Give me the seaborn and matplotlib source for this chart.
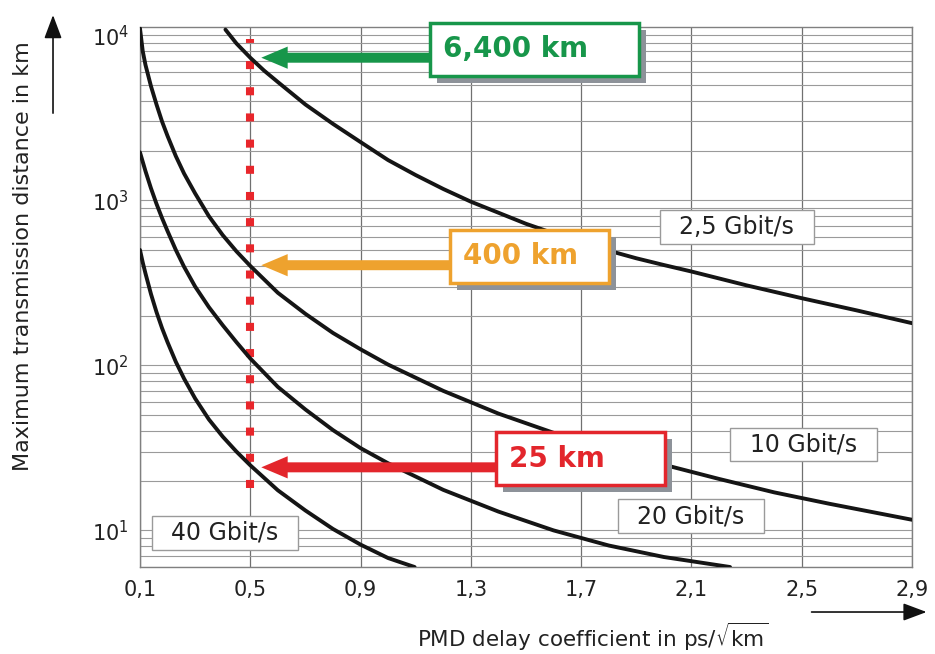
import numpy as np
import pandas as pd
import matplotlib
matplotlib.use("Agg")
import matplotlib.pyplot as plt
import matplotlib.ticker as mticker
import matplotlib.patheffects as pe
import seaborn as sns

# curves: PMD coefficient (ps/sqrt(km)) -> max distance (km)
pmd_2g5 = [0.41, 0.45, 0.50, 0.55, 0.60, 0.70, 0.80, 0.90, 1.00, 1.10, 1.20, 1.30, 1.40, 1.50,
           1.60, 1.70, 1.80, 1.90, 2.00, 2.10, 2.30, 2.50, 2.70, 2.90]
km_2g5 = [10800, 8900, 7300, 6100, 5200, 3800, 2900, 2250, 1750, 1420, 1170, 980, 840, 720,
          630, 555, 495, 445, 405, 370, 305, 255, 215, 180]

pmd_10g = [0.10, 0.11, 0.12, 0.14, 0.16, 0.18, 0.20, 0.23, 0.26, 0.30, 0.35, 0.40, 0.45, 0.50,
           0.60, 0.70, 0.80, 0.90, 1.00, 1.20, 1.40, 1.60, 1.80, 2.00, 2.20, 2.40, 2.60, 2.90]
km_10g = [11000, 8000, 6600, 4900, 3800, 3000, 2450, 1850, 1450, 1100, 800, 615, 490, 400,
          275, 205, 157, 125, 101, 70, 51, 39, 30.5, 25, 20.5, 17, 14.5, 11.6]

pmd_20g = [0.10, 0.12, 0.14, 0.16, 0.18, 0.20, 0.23, 0.26, 0.30, 0.35, 0.40, 0.45, 0.50, 0.60,
           0.70, 0.80, 0.90, 1.00, 1.20, 1.40, 1.60, 1.80, 2.00, 2.24]
km_20g = [1950, 1500, 1180, 950, 780, 650, 500, 395, 300, 225, 175, 138, 110, 74,
          54, 40.5, 31.5, 25.5, 17.6, 13, 10, 8.1, 6.9, 6.0]

pmd_40g = [0.10, 0.11, 0.12, 0.14, 0.16, 0.18, 0.20, 0.23, 0.26, 0.30, 0.35, 0.40, 0.45, 0.50,
           0.60, 0.70, 0.80, 0.90, 1.00, 1.096]
km_40g = [500, 420, 360, 270, 210, 168, 138, 105, 83, 63, 47, 37, 30, 24.8,
          17.5, 13.2, 10.2, 8.2, 6.8, 6.0]

rate_names = ["2,5 Gbit/s", "10 Gbit/s", "20 Gbit/s", "40 Gbit/s"]
label_pmd = [2.265, 2.506, 2.098, 0.408]
label_km = [690, 33.2, 12.2, 9.66]

# the 0.5 ps/sqrt(km) example and its three call-outs
ref_pmd = 0.5
ref_span = [18, 9500]
callout_text = ["6,400 km    ", "400 km  ", "25 km     "]
callout_km = [7300, 404, 24.1]
callout_tip_pmd = 0.54
callout_box_pmd = [1.198, 1.270, 1.437]
callout_box_km = [8220, 458, 27.1]
callout_colors = ["#17964a", "#eea22e", "#e3262c"]

xticks = [0.1, 0.5, 0.9, 1.3, 1.7, 2.1, 2.5, 2.9]
xtick_labels = ["0,1", "0,5", "0,9", "1,3", "1,7", "2,1", "2,5", "2,9"]

sns.set_theme(style="white")
plt.rcParams["font.family"] = ["DejaVu Sans"]

df = pd.concat([
    pd.DataFrame({"pmd": x, "km": y, "rate": r})
    for x, y, r in zip([pmd_2g5, pmd_10g, pmd_20g, pmd_40g],
                       [km_2g5, km_10g, km_20g, km_40g], rate_names)
])

fig, ax = plt.subplots(figsize=(9.35, 6.54), dpi=100)
fig.subplots_adjust(left=0.1497, right=0.9754, bottom=0.133, top=0.9587)

ax.set_yscale("log")
sns.lineplot(data=df, x="pmd", y="km", hue="rate", palette=["#151515"] * 4,
             estimator=None, sort=False, lw=2.8, legend=False, ax=ax, zorder=3)

ax.set_xlim(0.1, 2.9)
ax.set_ylim(6, 11200)
ax.set_xticks(xticks)
ax.set_xticklabels(xtick_labels)
ax.yaxis.set_major_locator(mticker.LogLocator(base=10))
ax.yaxis.set_minor_locator(mticker.LogLocator(base=10, subs=np.arange(2, 10)))
ax.yaxis.set_major_formatter(mticker.LogFormatterMathtext())
ax.yaxis.set_minor_formatter(mticker.NullFormatter())
ax.tick_params(axis="both", which="both", length=0, labelsize=15, colors="#222222")
ax.tick_params(axis="x", pad=9)
ax.tick_params(axis="y", pad=8)

ax.set_axisbelow(True)
ax.grid(axis="x", which="major", color="#707070", lw=0.9)
ax.grid(axis="y", which="both", color="#9a9a9a", lw=0.8)
for s in ax.spines.values():
    s.set_color("#808080")
    s.set_linewidth(1.0)

ax.set_xlabel(r"PMD delay coefficient in ps/$\sqrt{\mathrm{km}}$", fontsize=15.5, color="#222222")
ax.xaxis.set_label_coords(0.587, -0.100)
ax.set_ylabel("Maximum transmission distance in km", fontsize=16, color="#222222", va="center")
ax.yaxis.set_label_coords(-0.1516, 0.576)

# red dotted marker at 0.5
ax.plot([ref_pmd, ref_pmd], ref_span, color="#e8262b", lw=5.8,
        linestyle=(0, (1, 2.25)), dash_capstyle="butt", zorder=2.5)

# rate labels
for name, x, y in zip(rate_names, label_pmd, label_km):
    ax.text(x, y, "  " + name + "  ", fontsize=17, ha="center", va="center", color="#222222",
            zorder=5, bbox=dict(boxstyle="square,pad=0.2", fc="white", ec="#9a9a9a", lw=1.0))

# call-outs: arrow, then box with a grey drop shadow
for txt, yk, bx, by, c in zip(callout_text, callout_km, callout_box_pmd, callout_box_km, callout_colors):
    ax.annotate("", xy=(callout_tip_pmd, yk), xytext=(bx + 0.05, yk),
                arrowprops=dict(arrowstyle="simple,head_length=1.9,head_width=1.6,tail_width=0.72",
                                mutation_scale=10, fc=c, ec="none", shrinkA=0, shrinkB=0),
                zorder=4)
    t = ax.text(bx, by, txt, fontsize=20, fontweight="bold", ha="left", va="center", color=c,
                zorder=6, bbox=dict(boxstyle="square,pad=0.45", fc="white", ec=c, lw=2.5))
    t.get_bbox_patch().set_path_effects([
        pe.SimplePatchShadow(offset=(5, -5), shadow_rgbFace="#8d9299", alpha=1.0),
        pe.Normal(),
    ])

# axis direction arrows
ax.annotate("", xy=(0.0567, 0.977), xytext=(0.0567, 0.827), xycoords="figure fraction",
            textcoords="figure fraction",
            arrowprops=dict(arrowstyle="-|>,head_length=1.2,head_width=0.45", color="#111111",
                            lw=1.2, mutation_scale=12, shrinkA=0, shrinkB=0))
ax.annotate("", xy=(0.991, 0.0642), xytext=(0.868, 0.0642), xycoords="figure fraction",
            textcoords="figure fraction",
            arrowprops=dict(arrowstyle="-|>,head_length=1.2,head_width=0.45", color="#111111",
                            lw=1.2, mutation_scale=12, shrinkA=0, shrinkB=0))

fig.savefig("out.png", dpi=100)
